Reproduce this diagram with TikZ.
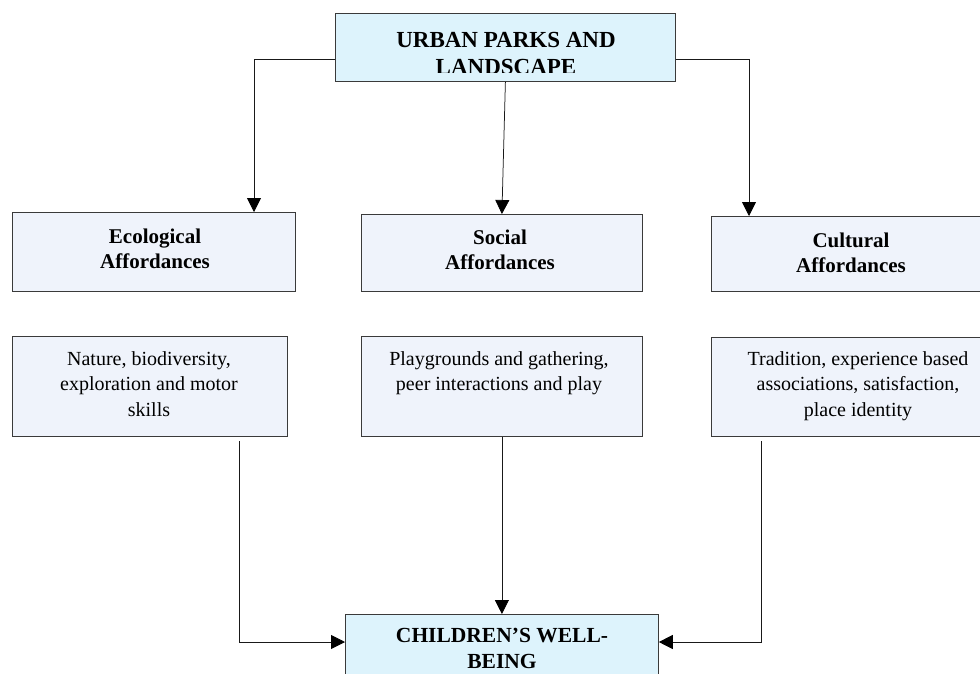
\documentclass[tikz,border=0pt]{standalone}
\usepackage{fontspec}
\setmainfont{Liberation Serif}
\usetikzlibrary{arrows.meta,shadows}
\definecolor{cyanfill}{HTML}{DDF3FC}
\definecolor{bluefill}{HTML}{EFF3FB}
\definecolor{edgecol}{HTML}{3A3A3A}
\begin{document}
\begin{tikzpicture}[x=1pt,y=-1pt,
  box/.style={draw=edgecol, line width=0.8pt, anchor=north west, inner sep=0pt,
    drop shadow={shadow xshift=1pt, shadow yshift=-1pt, opacity=0.6, fill=black!60}},
  mainbox/.style={box, fill=cyanfill},
  affbox/.style={box, fill=bluefill},
  conn/.style={draw=black!90, line width=0.75pt},
  arr/.style={conn, -{Triangle[length=14pt,width=14pt,fill=black,color=black]}},
  toptxt/.style={font=\bfseries\fontsize{23}{27}\selectfont, align=center, anchor=base, inner sep=0pt},
  childtxt/.style={font=\bfseries\fontsize{21.5}{26}\selectfont, align=center, anchor=base, inner sep=0pt},
  boldtxt/.style={font=\bfseries\fontsize{21}{25}\selectfont, align=center, anchor=base, inner sep=0pt},
  regtxt/.style={font=\fontsize{20}{25.5}\selectfont, align=center, anchor=base, inner sep=0pt}
]
\useasboundingbox (0,0) rectangle (980,673);
\fill[white] (0,0) rectangle (980,673);

% boxes
\node[mainbox, minimum width=340pt, minimum height=68pt] (top) at (335,13) {};
\node[affbox, minimum width=283pt, minimum height=79pt] (eco) at (12,212) {};
\node[affbox, minimum width=281pt, minimum height=77pt] (soc) at (361,214) {};
\node[affbox, minimum width=280pt, minimum height=75pt] (cult) at (711,216) {};
\node[affbox, minimum width=275pt, minimum height=100pt] (nat) at (12,336) {};
\node[affbox, minimum width=281pt, minimum height=100pt] (play) at (361,336) {};
\node[affbox, minimum width=280pt, minimum height=99pt] (trad) at (711,337) {};
\node[mainbox, minimum width=313pt, minimum height=80pt] (ch) at (345,614) {};

% texts (base anchor = baseline of the last line)
\begin{scope}
  \clip (335,13) rectangle (675,72);
  \node[toptxt] (toptext) at (506,74) {URBAN PARKS AND\\LANDSCAPE};
\end{scope}
\node[boldtxt] (ecotext) at (155,268) {Ecological\\Affordances};
\node[boldtxt] (soctext) at (500,269) {Social\\Affordances};
\node[boldtxt] (culttext) at (851,272) {Cultural\\Affordances};
\node[regtxt] (nattext) at (149,416) {Nature, biodiversity,\\exploration and motor\\skills};
\node[regtxt] (playtext) at (499,390.5) {Playgrounds and gathering,\\peer interactions and play};
\node[regtxt] (tradtext) at (858,416) {Tradition, experience based\\associations, satisfaction,\\place identity};
\node[childtxt] (chtext) at (502,668) {CHILDREN’S WELL-\\BEING};

% connectors
\coordinate (tl) at (254,59);
\coordinate (tr) at (749,59);
\draw[arr] (top.west |- tl) -| (eco.north -| tl);
\draw[arr] (top.east |- tr) -| (cult.north -| tr);
\draw[arr] (top.south) -- (soc.north);

\coordinate (bls) at (239,441);
\coordinate (bl) at (239,642);
\coordinate (brs) at (761,441);
\coordinate (br) at (761,642);
\draw[arr] (bls) |- (ch.west |- bl);
\draw[arr] (brs) |- (ch.east |- br);
\draw[arr] (play.south) -- (ch.north);
\end{tikzpicture}
\end{document}
